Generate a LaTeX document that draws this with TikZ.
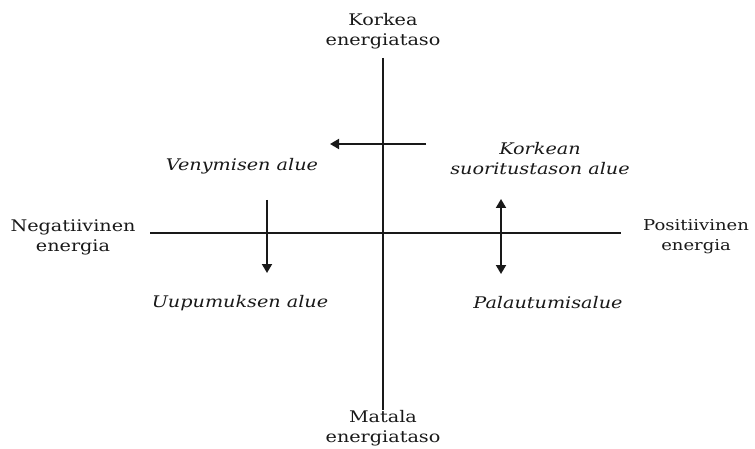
\documentclass[tikz,border=0pt]{standalone}
\usepackage{fontspec}
\setmainfont{DejaVu Serif}[FakeStretch=1.2]
\usetikzlibrary{arrows.meta}
\begin{document}
\begin{tikzpicture}[x=1pt,y=-1pt,
  axis/.style={line width=1.8pt,black!90},
  arr/.style={line width=1.8pt,black!90,-{Triangle[length=9pt,width=10pt]}},
  darr/.style={line width=1.8pt,black!90,{Triangle[length=9pt,width=10pt]}-{Triangle[length=9pt,width=10pt]}},
  lbl/.style={font=\fontsize{16}{20}\selectfont,align=center,text=black!90,inner sep=0pt},
  ilbl/.style={font=\fontsize{16}{20}\selectfont\itshape,align=center,text=black!90,inner sep=0pt}]
\useasboundingbox (0,0) rectangle (755,449);
\coordinate (L) at (150,233);
\coordinate (R) at (621,233);
\coordinate (T) at (383,58);
\coordinate (B) at (383,410);
\draw[axis] (L) -- (R);
\draw[axis] (T) -- (B);
\coordinate (h1) at (426,144);
\coordinate (h2) at (330,144);
\draw[arr] (h1) -- (h2);
\coordinate (d1) at (267,200);
\coordinate (d2) at (267,273);
\draw[arr] (d1) -- (d2);
\coordinate (u1) at (501,199);
\coordinate (u2) at (501,274);
\draw[darr] (u1) -- (u2);
\node[lbl] (top) at (383,31) {Korkea\\energiataso};
\node[lbl] (bot) at (383,428) {Matala\\energiataso};
\node[lbl,font=\fontsize{15}{20}\selectfont] (pos) at (696,237) {Positiivinen\\energia};
\node[lbl] (neg) at (73,237) {Negatiivinen\\energia};
\node[ilbl] (ven) at (242,166) {Venymisen alue};
\node[ilbl] (kor) at (540,159) {Korkean\\suoritustason alue};
\node[ilbl] (uup) at (240,303) {Uupumuksen alue};
\node[ilbl] (pal) at (548,303) {Palautumisalue};
\end{tikzpicture}
\end{document}
